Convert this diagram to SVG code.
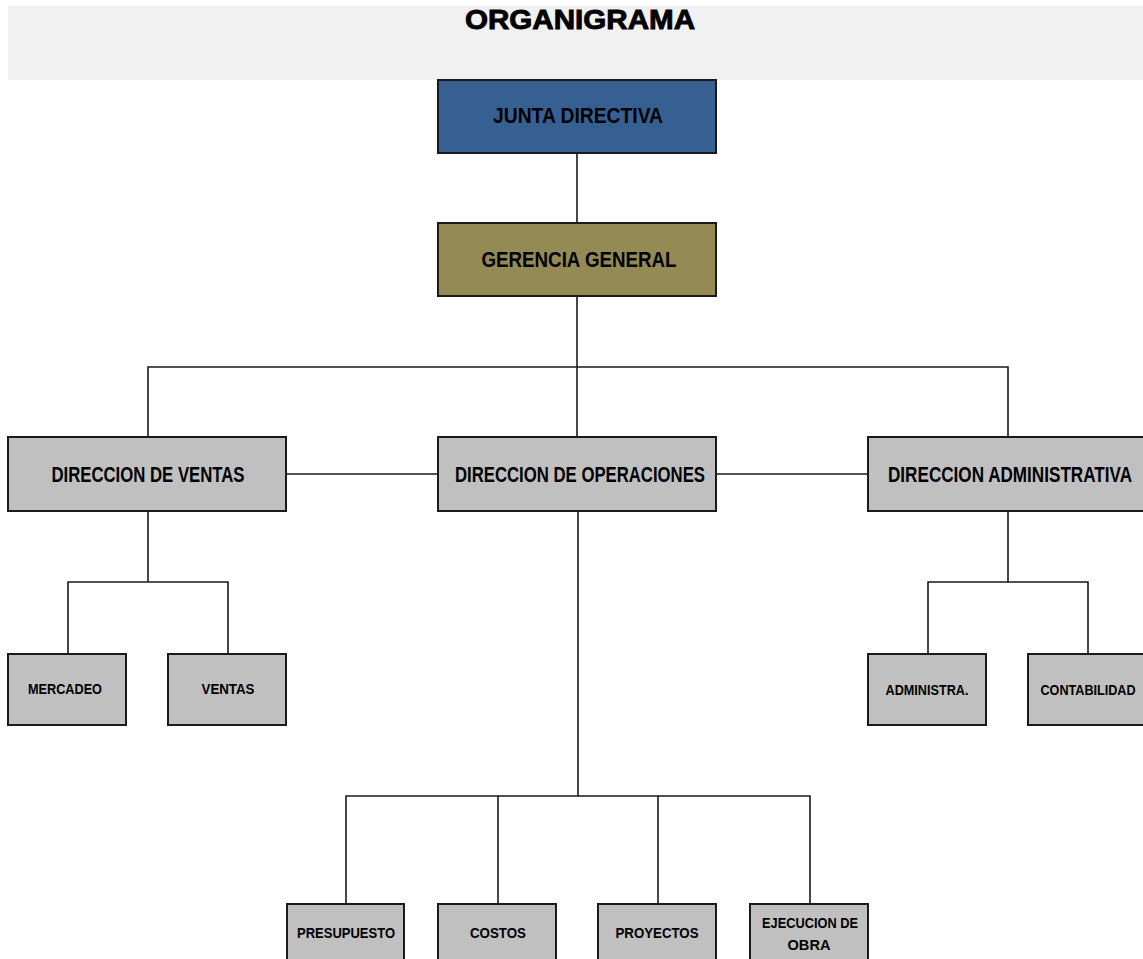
<svg xmlns="http://www.w3.org/2000/svg" width="1143" height="959" viewBox="0 0 1143 959">
<style>
.box{stroke:#1a1a1a;stroke-width:2}
.gray{fill:#c0c0c0}
.t{font-family:"Liberation Sans",Arial,sans-serif;font-weight:bold;fill:#000;text-anchor:middle}
.big{font-size:22px}
.small{font-size:15px}
.conn{fill:none;stroke:#1a1a1a;stroke-width:1.6}
</style>
<rect x="0" y="0" width="1143" height="959" fill="#ffffff"/>
<g id="header">
<rect x="8" y="6" width="1135" height="74" fill="#f1f1f1"/>
<text class="t" x="580" y="29" font-size="28" stroke="#000" stroke-width="0.9" textLength="230" lengthAdjust="spacingAndGlyphs">ORGANIGRAMA</text>
</g>
<g id="connectors">
<path class="conn" d="M577 153 V223"/>
<path class="conn" d="M577 296 V437"/>
<path class="conn" d="M148 437 V367 H1008 V437"/>
<path class="conn" d="M286 474 H438"/>
<path class="conn" d="M716 474 H868"/>
<path class="conn" d="M148 511 V582"/>
<path class="conn" d="M68 654 V582 H228 V654"/>
<path class="conn" d="M1008 511 V582"/>
<path class="conn" d="M928 654 V582 H1088 V654"/>
<path class="conn" d="M578 511 V796"/>
<path class="conn" d="M346 904 V796 H810 V904"/>
<path class="conn" d="M498 796 V904"/>
<path class="conn" d="M658 796 V904"/>
</g>
<g id="junta">
<rect class="box" x="438" y="80" width="278" height="73" fill="#376092"/>
<text class="t big" x="578" y="123" textLength="170" lengthAdjust="spacingAndGlyphs">JUNTA DIRECTIVA</text>
</g>
<g id="gerencia">
<rect class="box" x="438" y="223" width="278" height="73" fill="#948a54"/>
<text class="t big" x="579" y="267" textLength="195" lengthAdjust="spacingAndGlyphs">GERENCIA GENERAL</text>
</g>
<g id="dir-ventas">
<rect class="box gray" x="8" y="437" width="278" height="74"/>
<text class="t big" x="148" y="482" textLength="193" lengthAdjust="spacingAndGlyphs">DIRECCION DE VENTAS</text>
</g>
<g id="dir-operaciones">
<rect class="box gray" x="438" y="437" width="278" height="74"/>
<text class="t big" x="580" y="482" textLength="250" lengthAdjust="spacingAndGlyphs">DIRECCION DE OPERACIONES</text>
</g>
<g id="dir-administrativa">
<rect class="box gray" x="868" y="437" width="276" height="74"/>
<text class="t big" x="1010" y="482" textLength="244" lengthAdjust="spacingAndGlyphs">DIRECCION ADMINISTRATIVA</text>
</g>
<g id="mercadeo">
<rect class="box gray" x="8" y="654" width="118" height="71"/>
<text class="t small" x="65" y="694" textLength="74" lengthAdjust="spacingAndGlyphs">MERCADEO</text>
</g>
<g id="ventas">
<rect class="box gray" x="168" y="654" width="118" height="71"/>
<text class="t small" x="228" y="694" textLength="53" lengthAdjust="spacingAndGlyphs">VENTAS</text>
</g>
<g id="administra">
<rect class="box gray" x="868" y="654" width="118" height="71"/>
<text class="t small" x="927" y="695" textLength="83" lengthAdjust="spacingAndGlyphs">ADMINISTRA.</text>
</g>
<g id="contabilidad">
<rect class="box gray" x="1028" y="654" width="116" height="71"/>
<text class="t small" x="1088" y="695" textLength="95" lengthAdjust="spacingAndGlyphs">CONTABILIDAD</text>
</g>
<g id="presupuesto">
<rect class="box gray" x="287" y="904" width="117" height="71"/>
<text class="t small" x="346" y="938" textLength="98" lengthAdjust="spacingAndGlyphs">PRESUPUESTO</text>
</g>
<g id="costos">
<rect class="box gray" x="438" y="904" width="118" height="71"/>
<text class="t small" x="498" y="938" textLength="56" lengthAdjust="spacingAndGlyphs">COSTOS</text>
</g>
<g id="proyectos">
<rect class="box gray" x="598" y="904" width="118" height="71"/>
<text class="t small" x="657" y="938" textLength="83" lengthAdjust="spacingAndGlyphs">PROYECTOS</text>
</g>
<g id="ejecucion">
<rect class="box gray" x="750" y="904" width="118" height="71"/>
<text class="t small" x="810" y="928" textLength="96" lengthAdjust="spacingAndGlyphs">EJECUCION DE</text>
<text class="t small" x="809" y="950" textLength="43" lengthAdjust="spacingAndGlyphs">OBRA</text>
</g>
</svg>
